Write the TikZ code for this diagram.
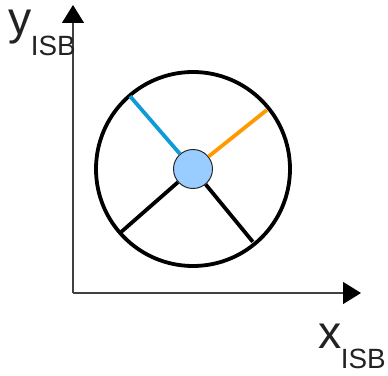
\documentclass[tikz,border=0pt]{standalone}
\usepackage{fontspec}
\setmainfont{Liberation Sans}
\usepackage{xcolor}
\usetikzlibrary{arrows.meta}
\definecolor{myblue}{HTML}{0F9BD7}
\definecolor{myorange}{HTML}{FF9900}
\definecolor{myhub}{HTML}{99CCFF}
\definecolor{mytext}{HTML}{222222}
\newcommand{\axislabel}[2]{{\fontsize{33}{33}\selectfont #1}\kern#2\raisebox{-14.5pt}{\fontsize{19.8}{20}\selectfont ISB}}

\begin{document}
\begin{tikzpicture}[
  axis/.style={-{Triangle[length=4.5mm,width=5.5mm,black]}, line width=0.9pt, black!75},
  spoke/.style={line width=2.7pt},
  lbl/.style={anchor=base west, inner sep=0pt, text=mytext}
]
\useasboundingbox (0,0) rectangle (9.7,9.375);
\coordinate (O) at (1.825,2.05);
\coordinate (Xend) at (9.025,2.05);
\coordinate (Yend) at (1.825,9.25);
\draw[axis] (O) -- (Xend);
\draw[axis] (O) -- (Yend);
\node[lbl] (xlabel) at (7.95,0.675) {\axislabel{x}{-0.5pt}};
\node[lbl] (ylabel) at (0.2,8.5) {\axislabel{y}{-0.5pt}};
\node[circle, draw, line width=2.7pt, minimum size=4.85cm, inner sep=0pt] (wheel) at (4.825,5.15) {};
\node[circle, draw=black!85, fill=myhub, line width=0.7pt, minimum size=0.975cm, inner sep=0pt] (hub) at (wheel.center) {};
\coordinate (bluetip) at (3.25,6.97);
\coordinate (orangetip) at (6.67,6.625);
\coordinate (lefttip) at (3.0,3.55);
\coordinate (righttip) at (6.32,3.33);
\draw[spoke, myblue] (hub) -- (bluetip);
\draw[spoke, myorange] (hub) -- (orangetip);
\draw[spoke] (hub) -- (lefttip);
\draw[spoke] (hub) -- (righttip);
\end{tikzpicture}
\end{document}
